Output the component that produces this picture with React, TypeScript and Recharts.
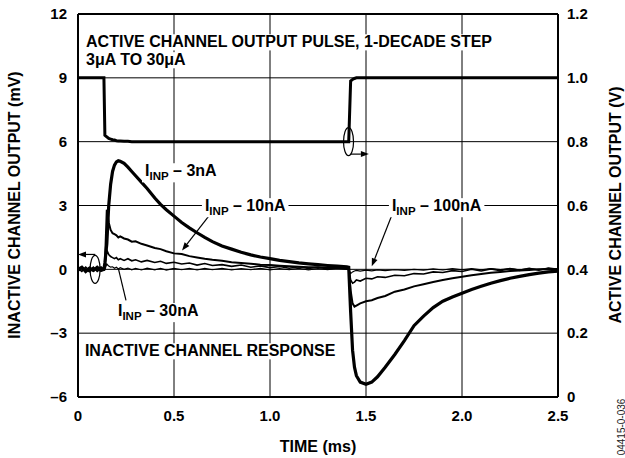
import React from 'react';
import { LineChart, Line, XAxis, YAxis, CartesianGrid, ReferenceLine, ReferenceDot } from 'recharts';

// time axis (ms)
const timeMs = [
  0, 0.02, 0.04, 0.06, 0.08, 0.1, 0.12, 0.135, 0.14, 0.15,
  0.16, 0.17, 0.18, 0.19, 0.2, 0.21, 0.22, 0.24, 0.26, 0.28,
  0.3, 0.33, 0.36, 0.4, 0.43, 0.46, 0.5, 0.54, 0.58, 0.62,
  0.66, 0.7, 0.75, 0.8, 0.85, 0.9, 0.95, 1.0, 1.05, 1.1,
  1.15, 1.2, 1.25, 1.3, 1.35, 1.4, 1.41, 1.42, 1.43, 1.44,
  1.45, 1.47, 1.5, 1.53, 1.56, 1.6, 1.65, 1.7, 1.75, 1.8,
  1.85, 1.9, 1.95, 2.0, 2.05, 2.1, 2.15, 2.2, 2.25, 2.3,
  2.35, 2.4, 2.45, 2.5,
];

// active channel output (V), right axis
const activeV = [
  1.0, 1.0, 1.0, 1.0, 1.0, 1.0, 1.0, 1.0, 0.82, 0.815,
  0.81, 0.808, 0.806, 0.805, 0.803, 0.802, 0.802, 0.801, 0.801, 0.8,
  0.8, 0.8, 0.8, 0.8, 0.8, 0.8, 0.8, 0.8, 0.8, 0.8,
  0.8, 0.8, 0.8, 0.8, 0.8, 0.8, 0.8, 0.8, 0.8, 0.8,
  0.8, 0.8, 0.8, 0.8, 0.8, 0.8, 0.8, 0.99, 0.995, 0.998,
  1.0, 1.0, 1.0, 1.0, 1.0, 1.0, 1.0, 1.0, 1.0, 1.0,
  1.0, 1.0, 1.0, 1.0, 1.0, 1.0, 1.0, 1.0, 1.0, 1.0,
  1.0, 1.0, 1.0, 1.0,
];

// inactive channel output (mV), left axis
const inp3nA = [
  0.0, 0.1, -0.1, 0.05, -0.05, 0.1, -0.05, 0.0, 0.3, 1.2,
  3.0, 4.0, 4.6, 4.9, 5.05, 5.1, 5.08, 4.98, 4.8, 4.6,
  4.4, 4.1, 3.8, 3.35, 3.05, 2.8, 2.5, 2.2, 1.95, 1.72,
  1.5, 1.3, 1.1, 0.95, 0.8, 0.68, 0.58, 0.5, 0.42, 0.36,
  0.3, 0.26, 0.22, 0.18, 0.15, 0.12, 0.1, -2.0, -3.8, -4.6,
  -5.0, -5.3, -5.4, -5.3, -5.05, -4.6, -4.0, -3.35, -2.65, -2.2,
  -1.8, -1.5, -1.3, -1.12, -0.95, -0.8, -0.65, -0.53, -0.42, -0.33,
  -0.25, -0.18, -0.12, -0.08,
];

const inp10nA = [
  -0.05, 0.1, 0.0, -0.1, 0.05, 0.0, 0.1, 0.0, 0.2, 2.8,
  2.2, 1.85, 1.7, 1.65, 1.6, 1.5, 1.55, 1.45, 1.4, 1.3,
  1.32, 1.2, 1.12, 1.0, 0.95, 0.85, 0.75, 0.72, 0.62, 0.56,
  0.5, 0.45, 0.4, 0.33, 0.3, 0.26, 0.22, 0.2, 0.17, 0.15,
  0.12, 0.1, 0.1, 0.08, 0.06, 0.05, 0.05, -1.0, -1.6, -1.75,
  -1.7, -1.6, -1.5, -1.45, -1.35, -1.25, -1.05, -0.95, -0.8, -0.7,
  -0.6, -0.5, -0.42, -0.35, -0.28, -0.22, -0.16, -0.12, -0.08, -0.05,
  -0.03, 0.0, 0.0, 0.02,
];

const inp30nA = [
  0.05, -0.1, 0.1, -0.05, 0.1, -0.1, 0.05, 0.0, 0.1, 0.9,
  0.7, 0.6, 0.55, 0.5, 0.55, 0.45, 0.5, 0.42, 0.5, 0.4,
  0.45, 0.35, 0.42, 0.32, 0.38, 0.28, 0.33, 0.25, 0.3, 0.2,
  0.27, 0.18, 0.22, 0.14, 0.2, 0.1, 0.16, 0.08, 0.13, 0.05,
  0.12, 0.04, 0.1, 0.02, 0.08, 0.03, 0.05, -0.5, -0.65, -0.6,
  -0.5, -0.55, -0.42, -0.45, -0.35, -0.38, -0.28, -0.3, -0.2, -0.22,
  -0.12, -0.15, -0.06, -0.1, 0.0, -0.08, 0.02, -0.06, 0.04, -0.05,
  0.05, -0.04, 0.06, 0.0,
];

const inp100nA = [
  -0.1, 0.05, -0.05, 0.1, -0.1, 0.05, 0.0, -0.05, 0.0, 0.25,
  0.15, 0.1, 0.12, 0.05, 0.1, 0.02, 0.08, 0.0, 0.06, -0.02,
  0.05, -0.03, 0.06, -0.02, 0.05, -0.04, 0.04, -0.02, 0.05, -0.03,
  0.04, -0.02, 0.05, -0.03, 0.04, -0.02, 0.05, -0.03, 0.04, -0.02,
  0.05, -0.03, 0.04, -0.02, 0.05, 0.0, 0.02, -0.2, -0.12, -0.08,
  -0.05, -0.08, -0.04, -0.07, -0.03, -0.06, -0.02, -0.05, 0.0, -0.04,
  0.02, -0.03, 0.03, -0.02, 0.04, -0.02, 0.04, -0.01, 0.03, -0.02,
  0.04, -0.01, 0.05, 0.0,
];

const xTicks = [0, 0.5, 1, 1.5, 2, 2.5];
const xTickLabels = ['0', '0.5', '1.0', '1.5', '2.0', '2.5'];
const leftTicks = [-6, -3, 0, 3, 6, 9, 12];
const leftTickLabels = ['–6', '–3', '0', '3', '6', '9', '12'];
const rightTicks = [0, 0.2, 0.4, 0.6, 0.8, 1.0, 1.2];
const rightTickLabels = ['0', '0.2', '0.4', '0.6', '0.8', '1.0', '1.2'];

const rows = timeMs.map((t, i) => ({
  t,
  active: activeV[i],
  n3: inp3nA[i],
  n10: inp10nA[i],
  n30: inp30nA[i],
  n100: inp100nA[i],
}));

const FONT = '"Liberation Sans", Arial, Helvetica, sans-serif';

const CW: Record<string, number> = {
  A: 722, B: 722, C: 722, D: 722, E: 667, F: 611, G: 778, H: 722, I: 278, L: 611, M: 833,
  N: 722, O: 778, P: 667, R: 722, S: 667, T: 611, U: 722, V: 667, ' ': 278, ',': 278,
  '.': 278, '-': 333, '–': 556, 'μ': 611, '(': 333, ')': 333, n: 611, m: 889, s: 556, a: 556,
};
const tw = (s: string, fs: number) => {
  let w = 0;
  for (const ch of s) w += CW[ch] ?? 556;
  return (w * fs) / 1000;
};

type Part = { s: string; sub?: boolean };

const AnnoText = ({ cx, cy, parts, fs = 16 }: { cx: number; cy: number; parts: Part[]; fs?: number }) => {
  const subFs = fs * 0.72;
  let w = 0;
  parts.forEach((p) => (w += tw(p.s, p.sub ? subFs : fs)));
  const hasSub = parts.some((p) => p.sub);
  return (
    <g>
      <rect x={cx - 3} y={cy - fs * 0.82} width={w + 6} height={fs * 0.82 + (hasSub ? 6 : 3)} fill="#fff" />
      <text x={cx} y={cy} fontFamily={FONT} fontWeight="bold" fontSize={fs} fill="#000" style={{ whiteSpace: 'pre' }}>
        {parts.map((p, i) =>
          p.sub ? (
            <tspan key={i} fontSize={subFs} dy={4}>{p.s}</tspan>
          ) : (
            <tspan key={i} dy={i > 0 && parts[i - 1].sub ? -4 : 0}>{p.s}</tspan>
          )
        )}
      </text>
    </g>
  );
};

const annotations: { t: number; v: number; parts: Part[] }[] = [
  { t: 0.042, v: 10.43, parts: [{ s: 'ACTIVE CHANNEL OUTPUT PULSE, 1-DECADE STEP' }] },
  { t: 0.042, v: 9.59, parts: [{ s: '3μA TO 30μA' }] },
  { t: 0.036, v: -4.09, parts: [{ s: 'INACTIVE CHANNEL RESPONSE' }] },
  { t: 0.349, v: 4.37, parts: [{ s: 'I' }, { s: 'INP', sub: true }, { s: ' – 3nA' }] },
  { t: 0.661, v: 2.73, parts: [{ s: 'I' }, { s: 'INP', sub: true }, { s: ' – 10nA' }] },
  { t: 1.635, v: 2.73, parts: [{ s: 'I' }, { s: 'INP', sub: true }, { s: ' – 100nA' }] },
  { t: 0.208, v: -2.2, parts: [{ s: 'I' }, { s: 'INP', sub: true }, { s: ' – 30nA' }] },
];

const leaders: { from: [number, number]; to: [number, number]; head: boolean; axis: string | number }[] = [
  { from: [0.68, 2.49], to: [0.542, 0.89], head: true, axis: 0 },
  { from: [1.635, 2.55], to: [1.53, 0.14], head: true, axis: 0 },
  { from: [0.25, -1.46], to: [0.21, 0.05], head: false, axis: 0 },
  { from: [0.09, 0.7], to: [0.0, 0.7], head: true, axis: 0 },
  { from: [1.42, 0.761], to: [1.515, 0.761], head: true, axis: 'right' },
];

const ellipses: { t: number; v: number; axis: string | number }[] = [
  { t: 0.089, v: 0, axis: 0 },
  { t: 1.409, v: 0.8, axis: 'right' },
];

const arrowShape = (head: boolean) => (p: any) => {
  const { x1, y1, x2, y2 } = p;
  const ang = Math.atan2(y2 - y1, x2 - x1);
  const L = 8;
  const W = 3;
  const bx = x2 - L * Math.cos(ang);
  const by = y2 - L * Math.sin(ang);
  const pts = `${x2},${y2} ${bx + W * Math.sin(ang)},${by - W * Math.cos(ang)} ${bx - W * Math.sin(ang)},${by + W * Math.cos(ang)}`;
  return (
    <g>
      <line x1={x1} y1={y1} x2={head ? bx : x2} y2={head ? by : y2} stroke="#000" strokeWidth={1.2} />
      {head && <polygon points={pts} fill="#000" />}
    </g>
  );
};

const tickStyle = { fill: '#000', fontSize: 15, fontWeight: 'bold', fontFamily: FONT };
const axisLineStyle = { stroke: '#000', strokeWidth: 2 };

export default function App() {
  return (
    <div style={{ position: 'relative', width: 625, height: 458 }}>
      <style>{'body{margin:0;background:#fff}'}</style>
      <LineChart width={625} height={458} data={rows} margin={{ top: 14, right: 0, bottom: 0, left: 0 }}>
        <CartesianGrid stroke="#000" strokeWidth={1} />
        <XAxis
          dataKey="t"
          type="number"
          domain={[0, 2.5]}
          ticks={xTicks}
          tickFormatter={(v: number) => xTickLabels[xTicks.indexOf(v)]}
          tick={tickStyle}
          tickLine={false}
          tickSize={0}
          tickMargin={13}
          axisLine={axisLineStyle}
          height={61}
        />
        <YAxis
          type="number"
          domain={[-6, 12]}
          ticks={leftTicks}
          tickFormatter={(v: number) => leftTickLabels[leftTicks.indexOf(v)]}
          tick={tickStyle}
          tickLine={false}
          tickSize={0}
          tickMargin={11}
          axisLine={axisLineStyle}
          width={78}
          interval={0}
        />
        <YAxis
          yAxisId="right"
          orientation="right"
          type="number"
          domain={[0, 1.2]}
          ticks={rightTicks}
          tickFormatter={(v: number) => rightTickLabels[rightTicks.findIndex((r) => Math.abs(r - v) < 1e-6)]}
          tick={tickStyle}
          tickLine={false}
          tickSize={0}
          tickMargin={9}
          axisLine={axisLineStyle}
          width={67}
          interval={0}
        />
        <ReferenceLine y={12} stroke="#000" strokeWidth={2} />
        <Line dataKey="n100" stroke="#000" strokeWidth={1.2} dot={false} activeDot={false} isAnimationActive={false} />
        <Line dataKey="n30" stroke="#000" strokeWidth={1.6} dot={false} activeDot={false} isAnimationActive={false} />
        <Line dataKey="n10" stroke="#000" strokeWidth={2} dot={false} activeDot={false} isAnimationActive={false} />
        <Line dataKey="n3" stroke="#000" strokeWidth={3.2} dot={false} activeDot={false} isAnimationActive={false} />
        <Line yAxisId="right" dataKey="active" stroke="#000" strokeWidth={3} dot={false} activeDot={false} isAnimationActive={false} />
        {leaders.map((l, i) => (
          <ReferenceLine
            key={'l' + i}
            yAxisId={l.axis}
            segment={[{ x: l.from[0], y: l.from[1] }, { x: l.to[0], y: l.to[1] }]}
            ifOverflow="visible"
            shape={arrowShape(l.head)}
          />
        ))}
        {ellipses.map((e, i) => (
          <ReferenceDot
            key={'e' + i}
            x={e.t}
            y={e.v}
            yAxisId={e.axis}
            ifOverflow="visible"
            shape={(p: any) => <ellipse cx={p.cx} cy={p.cy} rx={5} ry={14} fill="none" stroke="#000" strokeWidth={1.2} />}
          />
        ))}
        {annotations.map((a, i) => (
          <ReferenceDot
            key={'a' + i}
            x={a.t}
            y={a.v}
            ifOverflow="visible"
            shape={(p: any) => <AnnoText cx={p.cx} cy={p.cy} parts={a.parts} />}
          />
        ))}
      </LineChart>
      <svg width={625} height={458} style={{ position: 'absolute', left: 0, top: 0, pointerEvents: 'none' }}>
        <text x={14} y={205} transform="rotate(-90 14 205)" textAnchor="middle" dominantBaseline="central" fontFamily={FONT} fontWeight="bold" fontSize={16} fill="#000">
          INACTIVE CHANNEL OUTPUT (mV)
        </text>
        <text x={615} y={205} transform="rotate(-90 615 205)" textAnchor="middle" dominantBaseline="central" fontFamily={FONT} fontWeight="bold" fontSize={16} fill="#000">
          ACTIVE CHANNEL OUTPUT (V)
        </text>
        <text x={318} y={452} textAnchor="middle" fontFamily={FONT} fontWeight="bold" fontSize={16} fill="#000">
          TIME (ms)
        </text>
        <text x={621} y={427} transform="rotate(-90 621 427)" textAnchor="middle" dominantBaseline="central" fontFamily={FONT} fontSize={10} fill="#222">
          04415-0-036
        </text>
      </svg>
    </div>
  );
}
